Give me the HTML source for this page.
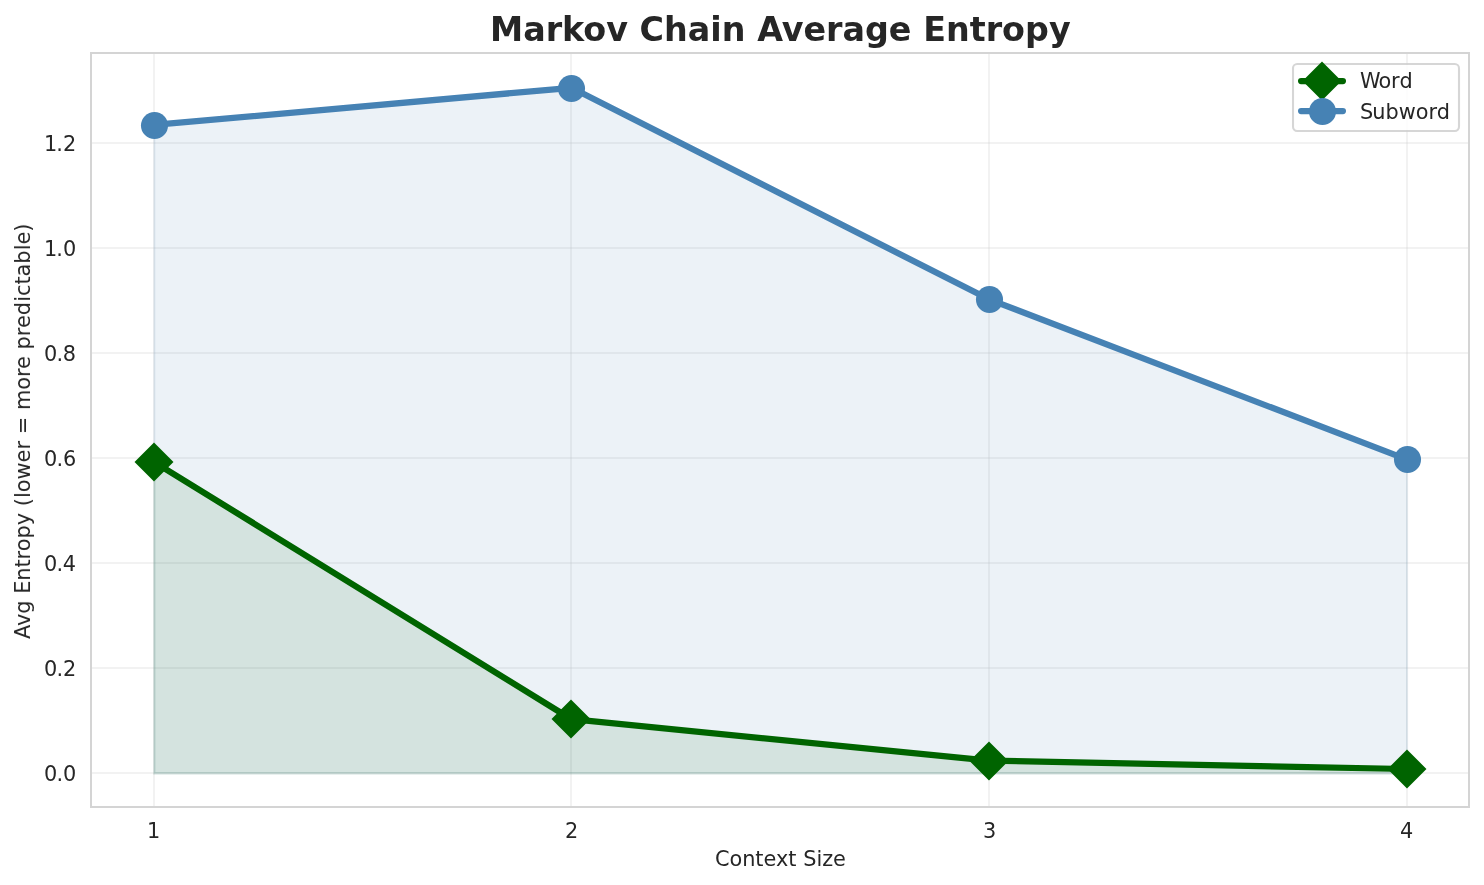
<!DOCTYPE html>
<html lang="en">
<head>
<meta charset="utf-8">
<title>Markov Chain Average Entropy</title>
<style>
html,body{margin:0;padding:0;background:#ffffff;}
body{width:1484px;height:885px;overflow:hidden;}
svg{display:block;}
svg text{font-family:"DejaVu Sans","Liberation Sans",sans-serif;fill:#262626;}
.tick{font-size:20.8333px;}
.lab{font-size:20.8333px;}
.ttl{font-size:33.3333px;font-weight:700;}
</style>
</head>
<body>
<svg width="1484" height="885" viewBox="0 0 1484 885">
<defs><clipPath id="ax"><rect x="91.21" y="53.48" width="1378.08" height="753.58"/></clipPath></defs>
<rect x="0" y="0" width="1484" height="885" fill="#ffffff"/>
<g id="grid" fill="#cccccc" fill-opacity="0.2500" clip-path="url(#ax)">
<rect x="153" y="53.48" width="2" height="753.58"/>
<rect x="570" y="53.48" width="2" height="753.58"/>
<rect x="988" y="53.48" width="2" height="753.58"/>
<rect x="1406" y="53.48" width="2" height="753.58"/>
<rect x="91.21" y="772" width="1378.08" height="2"/>
<rect x="91.21" y="667" width="1378.08" height="2"/>
<rect x="91.21" y="562" width="1378.08" height="2"/>
<rect x="91.21" y="457" width="1378.08" height="2"/>
<rect x="91.21" y="352" width="1378.08" height="2"/>
<rect x="91.21" y="247" width="1378.08" height="2"/>
<rect x="91.21" y="142" width="1378.08" height="2"/>
</g>
<g id="fills" clip-path="url(#ax)" stroke-width="2.08" stroke-linejoin="miter">
<polygon points="154.31,462.3 154.31,773.34 1407.11,773.34 1407.11,769.48 989.51,761.13 571.91,719.7" fill="#006400" fill-opacity="0.1" stroke="#006400" stroke-opacity="0.1"/>
<polygon points="154.31,125.46 154.31,773.34 1407.11,773.34 1407.11,459.8 989.51,299.81 571.91,88.26" fill="#4682b4" fill-opacity="0.1" stroke="#4682b4" stroke-opacity="0.1"/>
</g>
<g id="series" clip-path="url(#ax)">
<polyline points="153.85,461.82 571.45,719.22 989.05,760.65 1406.65,769" fill="none" stroke="#006400" stroke-width="6.25" stroke-linecap="round" stroke-linejoin="round"/>
<path d="M154 444L172 462L154 480L136 462Z" fill="#006400" stroke="#006400" stroke-width="2.08" stroke-linejoin="miter"/>
<path d="M571 701L589 719L571 737L553 719Z" fill="#006400" stroke="#006400" stroke-width="2.08" stroke-linejoin="miter"/>
<path d="M989 743L1007 761L989 779L971 761Z" fill="#006400" stroke="#006400" stroke-width="2.08" stroke-linejoin="miter"/>
<path d="M1407 751L1425 769L1407 787L1389 769Z" fill="#006400" stroke="#006400" stroke-width="2.08" stroke-linejoin="miter"/>
<polyline points="153.85,124.98 571.45,87.78 989.05,299.33 1406.65,459.32" fill="none" stroke="#4682b4" stroke-width="6.25" stroke-linecap="round" stroke-linejoin="round"/>
<circle cx="154.5" cy="125.5" r="13.54" fill="#4682b4"/>
<circle cx="571.5" cy="88.5" r="13.54" fill="#4682b4"/>
<circle cx="989.5" cy="299.5" r="13.54" fill="#4682b4"/>
<circle cx="1407.5" cy="459.5" r="13.54" fill="#4682b4"/>
</g>
<rect id="spines" x="91" y="53" width="1378" height="754" fill="none" stroke="#d4d4d4" stroke-width="2"/>
<g id="labels" opacity="0.999">
<text class="ttl" x="489.88 523.18 545.73 562.03 583.35 606.37 628.08 639.46 663.94 687.69 710.37 721.79 745.52 757.13 781.73 803.62 825.88 842.38 864.95 888.69 911.44 923.14 946.05 969.77 985.71 1002 1025.1 1048.94" y="41">Markov Chain Average Entropy</text>
<text class="tick" x="147.01" y="838">1</text>
<text class="tick" x="565.04" y="838">2</text>
<text class="tick" x="983.11" y="838">3</text>
<text class="tick" x="1399.99" y="838">4</text>
<text class="lab" x="714.89 729.5 742.15 755.28 763.59 776.04 788.3 796.5 803.15 816.43 822.2 832.89" y="866">Context Size</text>
<text class="tick" x="43.98 56.43 62.99" y="781">0.0</text>
<text class="tick" x="43.98 56.43 62.9" y="676">0.2</text>
<text class="tick" x="43.98 56.43 62.65" y="571">0.4</text>
<text class="tick" x="43.98 56.43 62.91" y="466">0.6</text>
<text class="tick" x="43.98 56.43 62.65" y="361">0.8</text>
<text class="tick" x="44.09 56.3 62.99" y="256">1.0</text>
<text class="tick" x="44.09 56.3 62.9" y="151">1.2</text>
<text class="lab" x="-177.13 -164.09 -151.67 -138.67 -131.78 -118.68 -105.56 -97.64 -89.36 -76.42 -63.37 -50.91 -44.29 -36.13 -30.39 -17.63 -0.62 12.46 20.99 27.77 45.11 51.98 72.23 84.88 93.03 105.82 112.44 125.81 133.89 146.64 160.16 165.95 177.62 185.55 198.17 211.72 217.46 230.33" y="431.47" transform="rotate(-90 30.48 431.47)">Avg Entropy (lower = more predictable)</text>
</g>
<g id="legend">
<rect x="1293" y="64" width="166" height="67" rx="4.17" ry="4.17" fill="#ffffff" stroke="#cccccc" stroke-width="2.08" opacity="0.8"/>
<line x1="1301.1" y1="81" x2="1342.9" y2="81" stroke="#006400" stroke-width="6.25" stroke-linecap="round"/>
<path d="M1322 63L1340 81L1322 99L1304 81Z" fill="#006400" stroke="#006400" stroke-width="2.08" stroke-linejoin="miter"/>
<line x1="1301.1" y1="111" x2="1342.9" y2="111" stroke="#4682b4" stroke-width="6.25" stroke-linecap="round"/>
<circle cx="1322.5" cy="111.5" r="13.54" fill="#4682b4"/>
<g opacity="0.999">
<text class="tick" x="1359.96 1378.57 1390.9 1399.47" y="88">Word</text>
<text class="tick" x="1360.04 1372.2 1385.48 1398.68 1415.7 1428.52 1436.73" y="119">Subword</text>
</g>
</g>
</svg>
</body>
</html>
